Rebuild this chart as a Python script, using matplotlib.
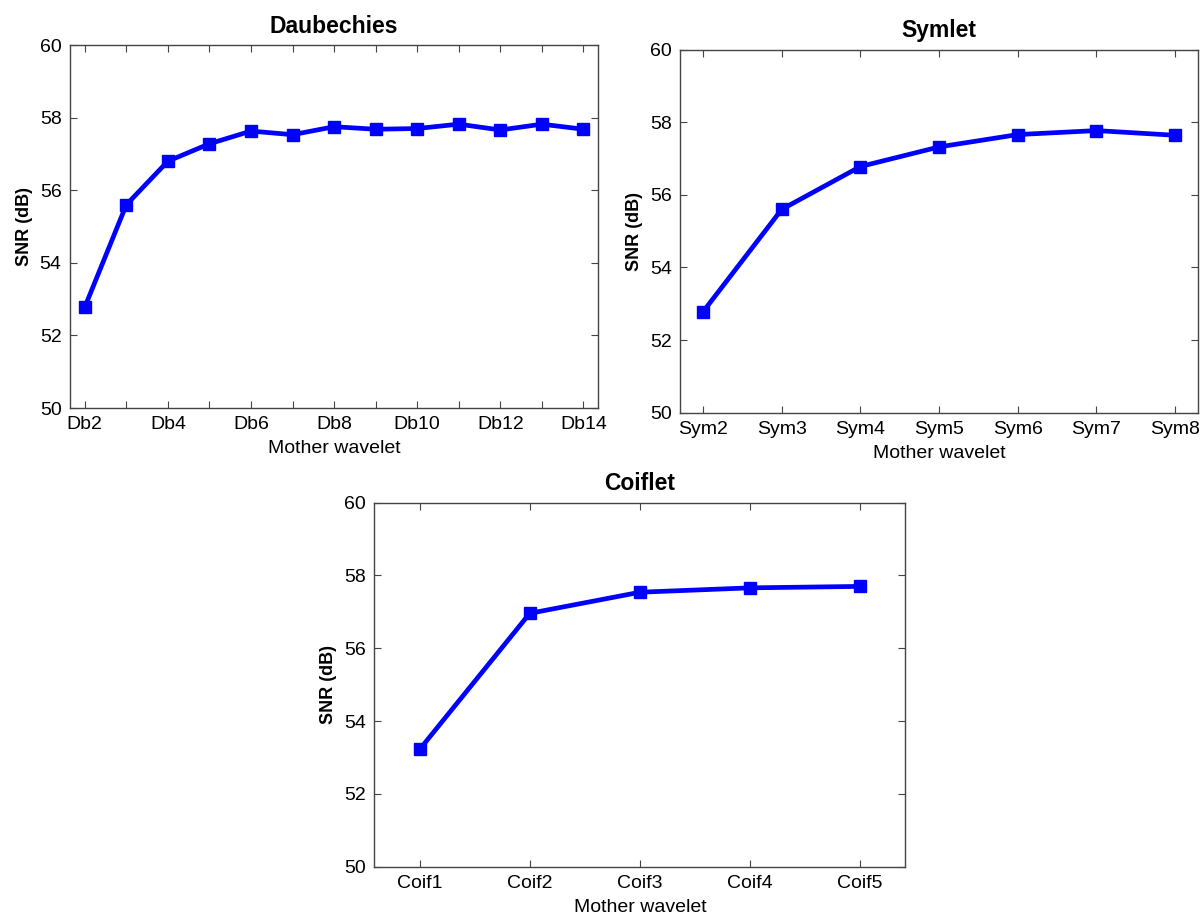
import numpy as np
import matplotlib.pyplot as plt

plt.rcParams['font.family'] = ['Liberation Sans', 'DejaVu Sans']

# SNR (dB) for each mother wavelet family
db_names = ['Db2', 'Db3', 'Db4', 'Db5', 'Db6', 'Db7', 'Db8', 'Db9',
            'Db10', 'Db11', 'Db12', 'Db13', 'Db14']
db_snr = [52.78, 55.6, 56.8, 57.28, 57.63, 57.53, 57.75, 57.68,
          57.7, 57.82, 57.66, 57.82, 57.68]

sym_names = ['Sym2', 'Sym3', 'Sym4', 'Sym5', 'Sym6', 'Sym7', 'Sym8']
sym_snr = [52.78, 55.6, 56.78, 57.32, 57.66, 57.77, 57.64]

coif_names = ['Coif1', 'Coif2', 'Coif3', 'Coif4', 'Coif5']
coif_snr = [53.22, 56.96, 57.54, 57.66, 57.7]

yticks = [50, 52, 54, 56, 58, 60]


def draw(ax, names, snr, title, pad, label_every=1):
    x = np.arange(len(names))
    ax.plot(x, snr, color='#0000ff', lw=3.4, marker='s', ms=8.5,
            markeredgecolor='#0000ff')
    ax.set_xlim(-pad, len(names) - 1 + pad)
    ax.set_ylim(50, 60)
    ax.set_yticks(yticks)
    ax.set_xticks(x)
    ax.set_xticklabels([n if i % label_every == 0 else '' for i, n in enumerate(names)])
    ax.tick_params(direction='in', top=True, right=True, labelsize=14,
                   length=5, width=0.8, color='#444444', pad=6)
    for s in ax.spines.values():
        s.set_color('#444444')
        s.set_linewidth(1.0)
    ax.set_title(title, fontsize=16.5, fontweight='bold', pad=9)
    ax.set_xlabel('Mother wavelet', fontsize=14, labelpad=5)
    ax.set_ylabel('SNR (dB)', fontsize=13, fontweight='bold', labelpad=5)


fig = plt.figure(figsize=(12.04, 9.19), dpi=100)

ax1 = fig.add_axes([0.058, 0.556, 0.439, 0.395])
draw(ax1, db_names, db_snr, 'Daubechies', 0.36, label_every=2)

ax2 = fig.add_axes([0.565, 0.551, 0.430, 0.395])
draw(ax2, sym_names, sym_snr, 'Symlet', 0.29)

ax3 = fig.add_axes([0.311, 0.057, 0.441, 0.396])
draw(ax3, coif_names, coif_snr, 'Coiflet', 0.41)

fig.savefig('out.png', dpi=100)
